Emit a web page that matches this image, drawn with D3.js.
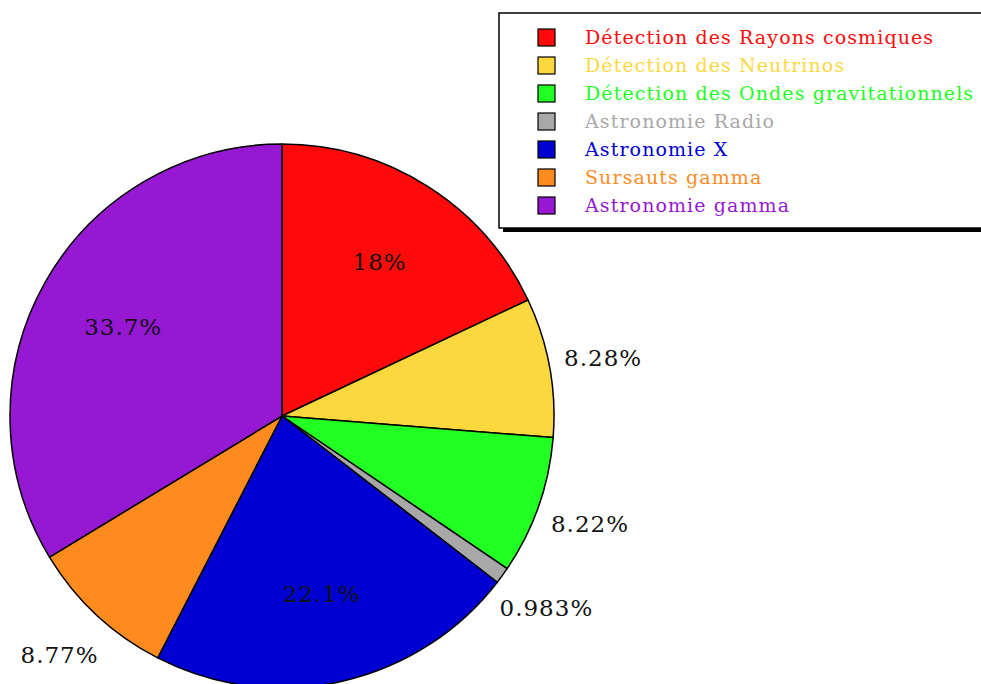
<!DOCTYPE html>
<html>
<head>
<meta charset="utf-8">
<script src="https://cdn.jsdelivr.net/npm/d3@7"></script>
<style>
  body { margin: 0; background: #fff; }
  svg { display: block; }
</style>
</head>
<body>
<svg width="981" height="684"></svg>
<script>
var categories = ["Détection des Rayons cosmiques", "Détection des Neutrinos",
    "Détection des Ondes gravitationnels", "Astronomie Radio", "Astronomie X",
    "Sursauts gamma", "Astronomie gamma"];
var values = [18, 8.28, 8.22, 0.983, 22.1, 8.77, 33.7];
var labels = ["18%", "8.28%", "8.22%", "0.983%", "22.1%", "8.77%", "33.7%"];
var colors = ["#ff0a0a", "#fcd83f", "#22ff22", "#a8a8a8", "#0000d2", "#fd8b1e", "#9618d3"];

var svg = d3.select("svg"),
    cx = 282, cy = 416, radius = 272,
    font = "'DejaVu Serif', 'Liberation Serif', serif";

var color = d3.scaleOrdinal().domain(categories).range(colors);

var pie = d3.pie().sort(null).value(function (d, i) { return values[i]; });
var arcs = pie(categories);

var arc = d3.arc().innerRadius(0).outerRadius(radius);
var inner = d3.arc().innerRadius(radius * 0.67).outerRadius(radius * 0.67);
var outer = d3.arc().innerRadius(radius * 1.2).outerRadius(radius * 1.2);

var g = svg.append("g").attr("transform", "translate(" + cx + "," + cy + ")");

g.selectAll("path")
    .data(arcs)
    .enter().append("path")
    .attr("d", arc)
    .attr("fill", function (d) { return color(d.data); })
    .attr("stroke", "#000")
    .attr("stroke-width", 1.5)
    .attr("stroke-linejoin", "round");

g.selectAll("text")
    .data(arcs)
    .enter().append("text")
    .attr("transform", function (d, i) {
        var c = values[i] > 15 ? inner.centroid(d) : outer.centroid(d);
        return "translate(" + c + ")";
    })
    .attr("text-anchor", "middle")
    .attr("dy", "0.36em")
    .attr("font-family", font)
    .attr("font-size", 23)
    .attr("letter-spacing", 1)
    .attr("fill", "#111")
    .text(function (d, i) { return labels[i]; });

// legend
var lx = 499, ly = 13, lw = 500, lh = 215;
svg.append("rect")
    .attr("x", lx + 4).attr("y", ly + 4)
    .attr("width", lw).attr("height", lh)
    .attr("fill", "#000");
svg.append("rect")
    .attr("x", lx).attr("y", ly)
    .attr("width", lw).attr("height", lh)
    .attr("fill", "#fff")
    .attr("stroke", "#000")
    .attr("stroke-width", 1.5);

var legend = svg.append("g")
    .selectAll("g")
    .data(categories)
    .enter().append("g")
    .attr("transform", function (d, i) {
        return "translate(0," + (37 + i * 28) + ")";
    });

legend.append("rect")
    .attr("x", 538).attr("y", -8)
    .attr("width", 17).attr("height", 17)
    .attr("fill", color)
    .attr("stroke", "#000")
    .attr("stroke-width", 1.2);

legend.append("text")
    .attr("x", 585)
    .attr("dy", "0.36em")
    .attr("font-family", font)
    .attr("font-size", 19)
    .attr("letter-spacing", 1.1)
    .attr("fill", color)
    .text(function (d) { return d; });
</script>
</body>
</html>
